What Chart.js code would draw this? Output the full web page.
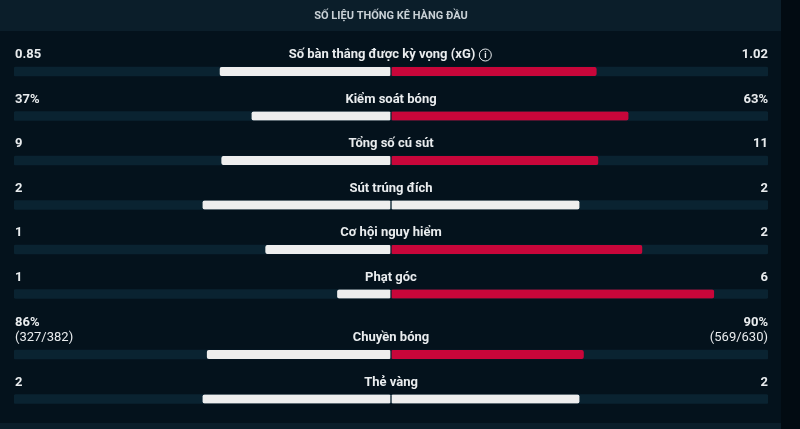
<!DOCTYPE html>
<html>
<head>
<meta charset="utf-8">
<script src="https://cdn.jsdelivr.net/npm/chart.js@4.4.1/dist/chart.umd.min.js"></script>
<style>
  html, body { margin: 0; padding: 0; background: #04121c; }
  #wrap { width: 800px; height: 429px; position: relative; }
</style>
</head>
<body>
<div id="wrap"><canvas id="statsChart" width="800" height="429"></canvas></div>
<script>
const chartTitle = "SỐ LIỆU THỐNG KÊ HÀNG ĐẦU";
const statLabels = ["Số bàn thắng được kỳ vọng (xG)", "Kiểm soát bóng", "Tổng số cú sút", "Sút trúng đích", "Cơ hội nguy hiểm", "Phạt góc", "Chuyền bóng", "Thẻ vàng"];
const homeValues = [0.85, 37, 9, 2, 1, 1, 86, 2];
const awayValues = [1.02, 63, 11, 2, 2, 6, 90, 2];
const homeText = ["0.85", "37%", "9", "2", "1", "1", "86%", "2"];
const awayText = ["1.02", "63%", "11", "2", "2", "6", "90%", "2"];
const homeSub = ["", "", "", "", "", "", "(327/382)", ""];
const awaySub = ["", "", "", "", "", "", "(569/630)", ""];
const infoRows = [0];

const WHITE = "#eeeeee";
const RED = "#c8063a";
const TRACK = "#0a2331";
const TEXT = "#e9ecee";

// row positions: one unit per row, plus a bit of extra room for each extra text line
const extraLine = 0.36;
const rowPos = [];
let acc = 0;
statLabels.forEach((l, i) => {
    if (homeSub[i] || awaySub[i]) acc += extraLine;
    rowPos.push(i + acc);
});

const homeShare = homeValues.map((v, i) => v / (v + awayValues[i]));
const awayShare = awayValues.map((v, i) => v / (v + homeValues[i]));

const panelPlugin = {
    id: "panel",
    beforeDraw(chart) {
        const c = chart.ctx;
        c.save();
        c.fillStyle = "#020b12";
        c.fillRect(0, 0, chart.width, chart.height);
        c.fillStyle = "#04121c";
        c.fillRect(0, 0, 781, chart.height);
        c.fillStyle = "#0b1e2a";
        c.fillRect(0, 0, 781, 31);
        c.fillRect(0, 423, 781, 6);
        c.fillStyle = "#c9d1d6";
        c.font = "bold 11px Roboto";
        c.textAlign = "center";
        c.textBaseline = "middle";
        c.fillText(chartTitle, 391, 16.5);
        c.restore();
    },
    afterDatasetsDraw(chart) {
        const c = chart.ctx;
        const area = chart.chartArea;
        const y = chart.scales.y;
        const mid = (area.left + area.right) / 2;
        c.save();
        c.fillStyle = TEXT;
        c.textBaseline = "middle";
        statLabels.forEach((label, i) => {
            const py = y.getPixelForValue(rowPos[i]);
            const ty = py - 16.5;
            c.font = "bold 13px Roboto";
            c.textAlign = "center";
            if (infoRows.includes(i)) {
                const w = c.measureText(label).width;
                const lx = mid - 9;
                c.fillText(label, lx, ty);
                const cx = lx + w / 2 + 10;
                c.strokeStyle = TEXT;
                c.lineWidth = 1;
                c.beginPath();
                c.arc(cx, ty, 6, 0, Math.PI * 2);
                c.stroke();
                c.font = "bold 9px Roboto";
                c.fillText("i", cx, ty + 0.5);
            } else {
                c.fillText(label, mid, ty);
            }
            const topY = homeSub[i] ? ty - 15 : ty;
            c.font = "bold 13px Roboto";
            c.textAlign = "left";
            c.fillText(homeText[i], area.left + 1, topY);
            c.textAlign = "right";
            c.fillText(awayText[i], area.right, topY);
            if (homeSub[i]) {
                c.font = "13px Roboto";
                c.textAlign = "left";
                c.fillText(homeSub[i], area.left + 1, ty);
                c.textAlign = "right";
                c.fillText(awaySub[i], area.right, ty);
            }
        });
        c.restore();
    }
};

const ctx = document.getElementById("statsChart").getContext("2d");

new Chart(ctx, {
    type: "bar",
    data: {
        datasets: [
            {
                label: "track",
                data: rowPos.map(p => ({ x: [-1, 1], y: p })),
                backgroundColor: TRACK,
                borderRadius: 2,
                borderSkipped: false,
                order: 3
            },
            {
                label: "home",
                data: rowPos.map((p, i) => ({ x: [-homeShare[i], 0], y: p })),
                backgroundColor: WHITE,
                borderColor: "rgba(0,0,0,0)",
                borderWidth: { left: 0, right: 1, top: 0, bottom: 0 },
                borderSkipped: false,
                borderRadius: 2,
                order: 1
            },
            {
                label: "away",
                data: rowPos.map((p, i) => ({ x: [0, awayShare[i]], y: p })),
                backgroundColor: awayValues.map((v, i) => v > homeValues[i] ? RED : WHITE),
                borderColor: "rgba(0,0,0,0)",
                borderWidth: { left: 1, right: 0, top: 0, bottom: 0 },
                borderSkipped: false,
                borderRadius: 2,
                order: 1
            }
        ]
    },
    options: {
        indexAxis: "y",
        responsive: false,
        animation: false,
        layout: { padding: { left: 14, right: 32, top: 0, bottom: 0 } },
        datasets: { bar: { barThickness: 9, grouped: false } },
        scales: {
            x: { type: "linear", min: -1, max: 1, display: false },
            y: { type: "linear", min: -1.607, max: 8.034, reverse: true, offset: false, display: false }
        },
        plugins: { legend: { display: false }, tooltip: { enabled: false } }
    },
    plugins: [panelPlugin]
});
</script>
</body>
</html>
